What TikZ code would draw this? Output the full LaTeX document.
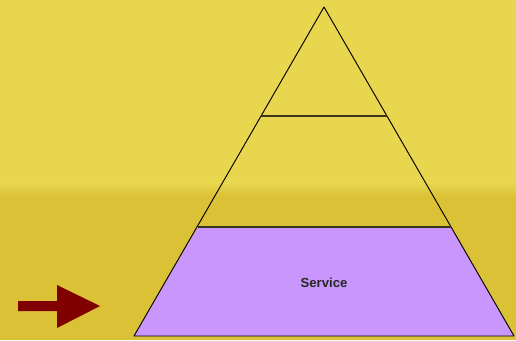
\documentclass[tikz,border=0pt]{standalone}
\usepackage{fontspec}
\setmainfont{Liberation Sans}
\usepackage{xcolor}
\definecolor{bgtop}{HTML}{E8D64E}
\definecolor{bgbot}{HTML}{DBC136}
\definecolor{tierfill}{HTML}{C896FC}
\definecolor{tierline}{HTML}{3A3418}
\definecolor{pointer}{HTML}{800000}

\begin{document}
\begin{tikzpicture}[
    x=0.03cm, y=-0.03cm,
    edge/.style={draw=black,line width=0.8pt,line join=round},
    tier/.style={draw=tierline,line width=1.7pt},
    label/.style={font=\bfseries\fontsize{11.2}{13}\selectfont,text=black!85}
  ]
  % background
  \useasboundingbox (0,0) rectangle (516,340);
  \fill[bgtop] (0,0) rectangle (516,184);
  \shade[top color=bgtop,bottom color=bgbot] (0,183.5) rectangle (516,196);
  \fill[bgbot] (0,195.5) rectangle (516,340);

  % pyramid corners
  \coordinate (apex) at (324,7);
  \coordinate (bl) at (134,336);
  \coordinate (br) at (514,336);
  \coordinate (ml) at (198,227);
  \coordinate (mr) at (451,227);
  \coordinate (tl) at (261,116);
  \coordinate (tr) at (387,116);

  % bottom tier
  \fill[tierfill] (ml) -- (mr) -- (br) -- (bl) -- cycle;
  \node[label] (service) at (324,283) {Service};

  % outline and tiers
  \draw[edge] (apex) -- (bl) -- (br) -- cycle;
  \draw[tier] (tl) -- (tr);
  \draw[tier] (ml) -- (mr);

  % pointer arrow
  \fill[pointer] (18,301) -- (57,301) -- (57,285) -- (100,306)
    -- (57,328) -- (57,311) -- (18,311) -- cycle;
\end{tikzpicture}
\end{document}
